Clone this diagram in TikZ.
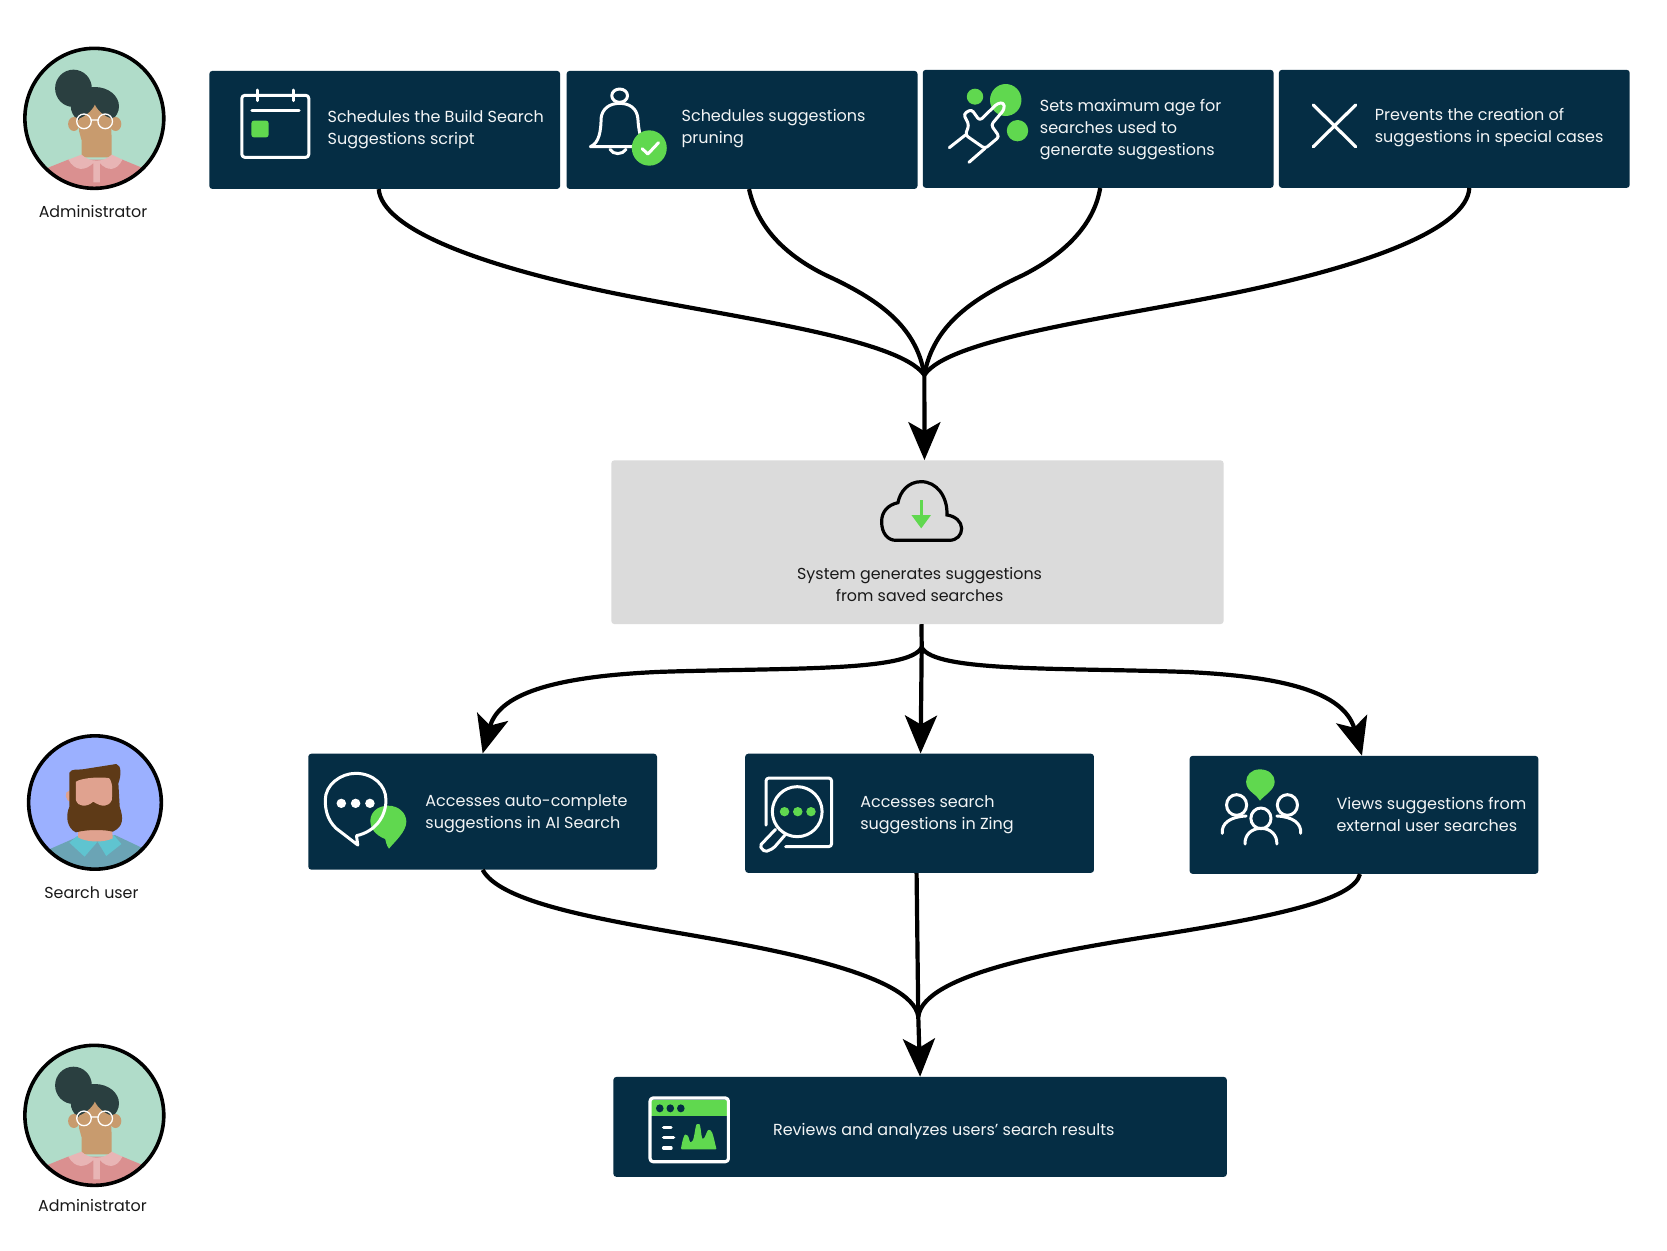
\documentclass[tikz,border=0pt]{standalone}
\usepackage{fontspec}
\setmainfont{Poppins}
\usetikzlibrary{arrows.meta}
\definecolor{navy}{HTML}{052D44}
\definecolor{gr}{HTML}{60D84F}
\definecolor{panel}{HTML}{DBDBDB}
\definecolor{mint}{HTML}{B0DCC9}
\definecolor{hairw}{HTML}{2A3F40}
\definecolor{skinw}{HTML}{C89B6E}
\definecolor{pinka}{HTML}{E8B5B5}
\definecolor{pinkb}{HTML}{DA9090}
\definecolor{peri}{HTML}{9BB0FF}
\definecolor{brownh}{HTML}{5E3A17}
\definecolor{skinm}{HTML}{E0A28F}
\definecolor{teala}{HTML}{6BA4B5}
\definecolor{tealb}{HTML}{5FC4D0}
\tikzset{
  zm/.style n args={3}{x=#1pt,y=-0.33333pt,shift={(#2pt,-#3pt)}},
  darkbox/.style={fill=navy,rounded corners=3pt,inner sep=0pt,draw=none},
  graybox/.style={fill=panel,rounded corners=3pt,inner sep=0pt,draw=none},
  wtext/.style={font=\fontsize{16}{22}\selectfont,text=white!95!navy,align=left,anchor=west,inner sep=0pt},
  ktext/.style={font=\fontsize{15.9}{22}\selectfont,text=black!90,align=center,inner sep=0pt},
  conn/.style={line width=4.2pt,draw=black},
  tip/.style={-{Stealth[length=38pt,width=32pt,inset=9pt]}},
  ico/.style={draw=white,line width=3pt,line cap=round,line join=round},
}
\newcommand{\womanart}{%
  \begin{scope}
    \clip (246.5,295) ellipse [x radius=181.5,y radius=210];
    \fill[mint] (60,80) rectangle (435,510);
    \fill[pinkb] (100,455) -- (178,419) -- (320,419) -- (396,455) -- (396,510) -- (100,510) -- cycle;
  \end{scope}
  \fill[hairw] (192,205) ellipse [x radius=48,y radius=56];
  \fill[hairw] (248,259) ellipse [x radius=63,y radius=58];
  \fill[skinw] (193,312) ellipse [x radius=15,y radius=21];
  \fill[skinw] (302,312) ellipse [x radius=15,y radius=21];
  \fill[skinw] (248,254) .. controls (256,275) and (276,290) .. (291,296) -- (291,335) .. controls (291,345) and (292,350) .. (292,360) -- (292,412) -- (213,412) -- (213,360) .. controls (213,350) and (207,345) .. (207,335) -- (207,296) .. controls (220,290) and (240,275) .. (248,254) -- cycle;
  \fill[pinka] (178.6,419) -- (213,404) .. controls (235,428) and (270,428) .. (292,404) -- (320,419) .. controls (305,454) and (280,454) .. (261,429) -- (261,487) -- (244,487) -- (244,429) .. controls (222,454) and (196,454) .. (178.6,419) -- cycle;
  \draw[white,line width=1.3pt] (219.5,304) ellipse [x radius=19,y radius=22] (275,304) ellipse [x radius=19,y radius=22] (238,300) -- (256,300);
  \draw[black,line width=3.6pt] (246.5,295) ellipse [x radius=181.5,y radius=210];
}
\begin{document}
\begin{tikzpicture}[x=1.0631pt,y=-1.0631pt]
\useasboundingbox (0pt,0pt) rectangle (1667pt,-1250pt);
\fill[white] (0pt,0pt) rectangle (1667pt,-1250pt);

% boxes
\node[darkbox,minimum width=350.8pt,minimum height=118pt] (b1) at (361.9,122.2) {};
\node[darkbox,minimum width=350.9pt,minimum height=118pt] (b2) at (698,122.2) {};
\node[darkbox,minimum width=350.8pt,minimum height=118pt] (b3) at (1033,121.2) {};
\node[darkbox,minimum width=350.8pt,minimum height=118pt] (b4) at (1368,121.2) {};
\node[graybox,minimum width=612.3pt,minimum height=163.7pt] (c) at (863,510) {};
\node[darkbox,minimum width=348.7pt,minimum height=115.9pt] (l1) at (454,763.5) {};
\node[darkbox,minimum width=348.8pt,minimum height=119.1pt] (l2) at (865,765) {};
\node[darkbox,minimum width=348.7pt,minimum height=118pt] (l3) at (1283,766.5) {};
\node[darkbox,minimum width=613.4pt,minimum height=99.9pt] (r) at (865.5,1060) {};

% connectors
\coordinate (j2) at (867,609);
\begin{scope}[zm={0.72727}{360}{185}]
  \coordinate (j1) at (776,570);
  \draw[conn] ([xshift=-6pt]b1.south) .. controls (30,130) and (160,240) .. (350,325) .. controls (520,400) and (740,460) .. (j1);
  \draw[conn] ([xshift=7pt]b2.south) .. controls (545,110) and (575,200) .. (640,270) .. controls (710,340) and (765,420) .. (j1);
  \draw[conn] ([xshift=2pt]b3.south) .. controls (1010,110) and (975,200) .. (912,270) .. controls (843,340) and (788,420) .. (j1);
  \draw[conn] ([xshift=15pt]b4.south) .. controls (1522,130) and (1390,240) .. (1200,325) .. controls (1030,400) and (810,460) .. (j1);
\end{scope}
\draw[conn,tip] (j1) -- ([xshift=7pt]c.north);
\draw[conn] ([xshift=4pt]c.south) -- (j2);
\draw[conn,tip] (j2) -- ([xshift=1pt]l2.north);
\draw[conn,tip] (j2) .. controls (855,632) and (740,628) .. (620,632) .. controls (530,636) and (470,650) .. (l1.north);
\draw[conn,tip] (j2) .. controls (879,632) and (994,628) .. (1114,632) .. controls (1204,636) and (1264,650) .. ([xshift=-2pt]l3.north);
\begin{scope}[zm={0.57398}{470}{860}]
  \coordinate (j3) at (781,470);
  \draw[conn] (l1.south) .. controls (50,120) and (200,170) .. (350,215) .. controls (520,265) and (770,340) .. (j3);
  \draw[conn] ([xshift=-3pt]l2.south) -- (j3);
  \draw[conn] ([xshift=-4pt]l3.south) .. controls (1540,120) and (1400,170) .. (1200,225) .. controls (1030,270) and (790,340) .. (j3);
\end{scope}
\draw[conn,tip] (j3) -- (r.north);

% texts
\node[wtext] (t1) at (308,121.5) {Schedules the Build Search\\Suggestions script};
\node[wtext] (t2) at (641,121) {Schedules suggestions\\pruning};
\node[wtext] (t3) at (978,122) {Sets maximum age for\\searches used to\\generate suggestions};
\node[wtext] (t4) at (1293,120) {Prevents the creation of\\suggestions in special cases};
\node[ktext] (t5) at (865,550) {System generates suggestions\\from saved searches};
\node[wtext] (t6) at (400,765.5) {Accesses auto-complete\\suggestions in AI Search};
\node[wtext] (t7) at (809,766.5) {Accesses search\\suggestions in Zing};
\node[wtext] (t8) at (1257,766) {Views suggestions from\\external user searches};
\node[wtext] (t9) at (727,1064) {Reviews and analyzes users’ search results};
\node[ktext] (a1) at (87.5,199) {Administrator};
\node[ktext] (a2) at (86,839.5) {Search user};
\node[ktext] (a3) at (87,1133.5) {Administrator};

% avatars
\begin{scope}[zm={0.38265}{0}{20}]\womanart\end{scope}
\begin{scope}[zm={0.38265}{0}{1017}]\womanart\end{scope}
\begin{scope}[zm={0.43367}{0}{720}]
  \begin{scope}
    \clip (219,247.5) ellipse [x radius=153,y radius=200];
    \fill[peri] (60,40) rectangle (380,455);
    \fill[teala] (110,390) -- (180,350) -- (265,345) -- (330,385) -- (330,455) -- (110,455) -- cycle;
  \end{scope}
  \fill[tealb] (178,348) -- (225,365) -- (262,345) -- (280,372) -- (245,408) -- (225,365) -- (195,410) -- (160,368) -- cycle;
  \fill[skinm] (180,320) -- (258,320) -- (260,355) .. controls (240,368) and (200,368) .. (180,352) -- cycle;
  \fill[skinm] (160,212) .. controls (148,212) and (148,245) .. (165,245) -- cycle;
  \fill[brownh] (160,158) .. controls (165,145) and (180,150) .. (190,148) -- (268,132) .. controls (280,135) and (280,165) .. (273,190) -- (276,260) .. controls (285,295) and (285,320) .. (260,335) .. controls (240,328) and (200,328) .. (175,337) .. controls (155,325) and (150,290) .. (160,260) -- cycle;
  \fill[skinm] (175,185) .. controls (190,172) and (240,170) .. (252,175) .. controls (262,190) and (258,225) .. (258,240) .. controls (250,262) and (235,262) .. (215,245) .. controls (200,262) and (180,262) .. (175,240) -- cycle;
  \draw[black,line width=3.6pt] (219,247.5) ellipse [x radius=153,y radius=200];
\end{scope}

% calendar
\begin{scope}[zm={0.38265}{0}{20}]
  \draw[ico,rounded corners=3pt] (632,226) rectangle (807,412);
  \draw[ico] (658,272) -- (782,272) (672,210) -- (672,242) (767,210) -- (767,242);
  \fill[gr,rounded corners=2.5pt] (657,302) rectangle (702,352);
\end{scope}

% bell
\begin{scope}[zm={0.35714}{560}{50}]
  \draw[ico] (167,137) ellipse [x radius=22,y radius=20];
  \draw[ico] (85,290) .. controls (110,280) and (115,240) .. (115,205) .. controls (118,175) and (140,160) .. (167,160) .. controls (195,160) and (215,175) .. (218,205) .. controls (220,240) and (225,270) .. (240,290) -- cycle;
  \draw[ico] (140,298) .. controls (148,315) and (175,315) .. (185,298);
  \fill[gr] (250,294) ellipse [x radius=49,y radius=53];
  \draw[ico] (230,296) -- (246,312) -- (276,278);
\end{scope}

% pointer
\begin{scope}[zm={0.35714}{560}{50}]
  \fill[gr] (1162,140) ellipse [x radius=23,y radius=24];
  \fill[gr] (1248,150) ellipse [x radius=44,y radius=48];
  \fill[gr] (1281,242) ellipse [x radius=30,y radius=32];
  \draw[ico,rounded corners=3pt] (1130,192) -- (1152,178) -- (1175,212) -- (1225,160) -- (1243,158) -- (1244,178) -- (1207,225) -- (1230,260) -- (1190,296) -- (1135,255) -- (1145,225) -- cycle;
  \draw[ico] (1090,293) -- (1135,255) (1145,337) -- (1190,295);
\end{scope}

% X
\begin{scope}[zm={0.36155}{1100}{50}]
  \draw[ico,line width=3.2pt] (590,165) -- (707,290) (707,165) -- (590,290);
\end{scope}

% cloud
\begin{scope}[zm={0.40816}{600}{440}]
  \draw[black,line width=3.2pt] (725,301) -- (855,301) .. controls (875,301) and (886,285) .. (886,265) .. controls (886,245) and (870,228) .. (850,225) .. controls (852,170) and (825,125) .. (787,125) .. controls (755,125) and (735,155) .. (730,188) .. controls (705,195) and (690,215) .. (690,245) .. controls (690,280) and (705,301) .. (725,301) -- cycle;
  \draw[gr,line width=3pt] (787,180) -- (787,230);
  \fill[gr] (763,225) -- (811,225) -- (787,265) -- cycle;
\end{scope}

% chat
\begin{scope}[zm={0.43367}{0}{720}]
  \fill[gr] (895,257) .. controls (920,257) and (937,280) .. (937,305) .. controls (937,335) and (910,365) .. (897,386) .. controls (890,375) and (890,362) .. (888,357) .. controls (865,345) and (854,325) .. (854,302) .. controls (854,278) and (870,257) .. (895,257) -- cycle;
  \draw[ico] (825,375) -- (775,325) .. controls (755,300) and (750,270) .. (750,240) .. controls (750,195) and (785,160) .. (820,160) .. controls (860,160) and (890,195) .. (890,240) .. controls (890,290) and (865,335) .. (822,347) -- cycle;
  \fill[white] (787,250) ellipse [x radius=11,y radius=14] (820,250) ellipse [x radius=11,y radius=14] (853,250) ellipse [x radius=11,y radius=14];
\end{scope}

% magnifier
\begin{scope}[zm={0.52934}{730}{740}]
  \draw[ico,rounded corners=3pt] (68,255) -- (68,114) -- (192,114) -- (192,320) -- (105,320);
  \draw[ico] (127,215) ellipse [x radius=47,y radius=75];
  \draw[ico,rounded corners=2pt] (86,268) -- (56,318) -- (66,336) -- (82,325) -- (105,283);
  \fill[gr] (103,215) ellipse [x radius=9,y radius=14] (128,215) ellipse [x radius=9,y radius=14] (153,215) ellipse [x radius=9,y radius=14];
\end{scope}

% people
\begin{scope}[zm={0.52934}{730}{740}]
  \fill[gr] (1001,88) .. controls (1018,88) and (1029,105) .. (1029,125) .. controls (1029,150) and (1010,165) .. (1001,182) .. controls (996,170) and (992,165) .. (988,160) .. controls (980,150) and (975,140) .. (975,125) .. controls (975,105) and (985,88) .. (1001,88) -- cycle;
  \draw[ico] (957,195) ellipse [x radius=19,y radius=31];
  \draw[ico] (1053,195) ellipse [x radius=19,y radius=31];
  \draw[ico] (1003,235) ellipse [x radius=19,y radius=31];
  \draw[ico] (930,280) .. controls (928,250) and (945,230) .. (975,228);
  \draw[ico] (1078,280) .. controls (1080,250) and (1063,230) .. (1033,228);
  \draw[ico] (973,312) .. controls (972,285) and (985,265) .. (1003,265) .. controls (1021,265) and (1034,285) .. (1033,312);
\end{scope}

% window
\begin{scope}[zm={0.42092}{600}{1060}]
  \fill[gr] (122,120) rectangle (302,169);
  \draw[ico,line width=3.2pt,rounded corners=3pt] (119,114) rectangle (305,305);
  \fill[navy] (142,145) ellipse [x radius=9,y radius=12] (167,145) ellipse [x radius=9,y radius=12] (192,145) ellipse [x radius=9,y radius=12];
  \draw[ico,line width=3.2pt] (151,202) -- (169,202) (151,233) -- (175,233) (151,264) -- (169,264);
  \fill[gr,rounded corners=1pt] (192,268) .. controls (196,240) and (200,222) .. (205,225) .. controls (212,228) and (212,250) .. (218,245) .. controls (225,235) and (226,192) .. (233,192) .. controls (240,192) and (240,240) .. (247,235) .. controls (252,225) and (255,208) .. (261,210) .. controls (268,215) and (272,245) .. (277,268) -- cycle;
\end{scope}
\end{tikzpicture}
\end{document}
